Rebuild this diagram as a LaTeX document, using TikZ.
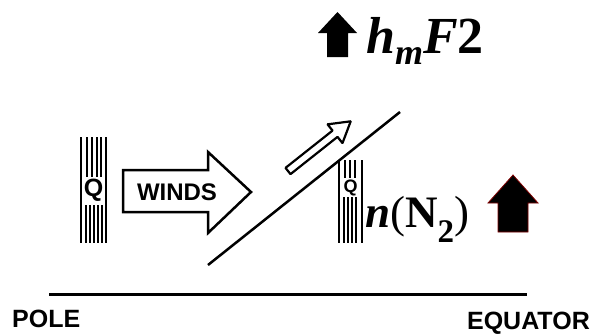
\documentclass[tikz,border=0pt]{standalone}
\usepackage{fontspec}
\setmainfont{Liberation Serif}
\newfontfamily\sansf{Liberation Sans}
\begin{document}
\begin{tikzpicture}[x=1pt,y=-1pt,
  barline/.style={line width=1.3pt},
  barouter/.style={line width=2.8pt},
  outlinearrow/.style={line width=2.5pt, line join=miter},
  thinarrow/.style={line width=2.2pt, line join=miter},
  groundline/.style={line width=3pt},
  lbl/.style={inner sep=0pt, font=\sansf\bfseries\fontsize{25}{25}\selectfont},
]
\useasboundingbox (0,0) rectangle (596,333);

% left Q bar
\draw[barouter] (81,137) -- (81,243) (106,137) -- (106,243);
\foreach \x in {87,92,97,101} \draw[barline] (\x,137) -- (\x,177);
\foreach \x in {86,90,94,98,102} \draw[barline] (\x,205) -- (\x,243);
\node[inner sep=0pt, font=\sansf\bfseries\fontsize{25}{25}\selectfont] (q1) at (93.5,190) {Q};

% WINDS arrow
\draw[outlinearrow] (123,170) -- (208,170) -- (208,152) -- (251,192) -- (208,233) -- (208,212) -- (123,212) -- cycle;
\node[inner sep=0pt, font=\sansf\bfseries\fontsize{24}{24}\selectfont] (winds) at (177,192) {WINDS};

% diagonal line
\coordinate (d1) at (208,265);
\coordinate (d2) at (400,112);
\draw[line width=2.5pt] (d1) -- (d2);

% small hollow arrow
\begin{scope}[shift={(288,171)}, rotate=38.4]
\draw[thinarrow, rounded corners=0.5pt] (0,-4) -- (60,-4) -- (60,-12) -- (80,0) -- (60,12) -- (60,4) -- (0,4) -- cycle;
\end{scope}

% top up arrow and label
\fill (327,57) -- (327,33) -- (318,33) -- (337.5,12) -- (357,33) -- (348,33) -- (348,57) -- cycle;
\node[anchor=base west, inner sep=0pt] (hmf) at (366,53)
  {\fontsize{52}{52}\selectfont\bfseries\itshape h\raisebox{-11pt}{\fontsize{36}{36}\selectfont m}F\upshape 2};

% right Q bar
\draw[barouter] (339,160) -- (339,243) (362,160) -- (362,243);
\foreach \x in {345,350,355} \draw[barline] (\x,160) -- (\x,178);
\foreach \x in {344,348,352,356} \draw[barline] (\x,197) -- (\x,243);
\node[inner sep=0pt, font=\sansf\bfseries\fontsize{18}{18}\selectfont] (q2) at (350.5,187.5) {Q};

% n(N2) label and arrow
\node[anchor=base west, inner sep=0pt] (nn) at (365,227)
  {\fontsize{45}{45}\selectfont{\bfseries\itshape n}(\textbf{N}\raisebox{-15pt}{\fontsize{33}{33}\selectfont\bfseries 2})};
\filldraw[draw=red!50!black, line width=0.8pt, fill=black] (498,232) -- (498,203) -- (488,203) -- (513,175) -- (538,203) -- (528,203) -- (528,232) -- cycle;

% ground line and labels
\coordinate (pl) at (49,294.5);
\coordinate (eq) at (527,294.5);
\draw[groundline] (pl) -- (eq);
\node[lbl, anchor=base west] (pole) at (12,327) {POLE};
\node[lbl, anchor=base east] (equator) at (590,329) {EQUATOR};
\end{tikzpicture}
\end{document}
